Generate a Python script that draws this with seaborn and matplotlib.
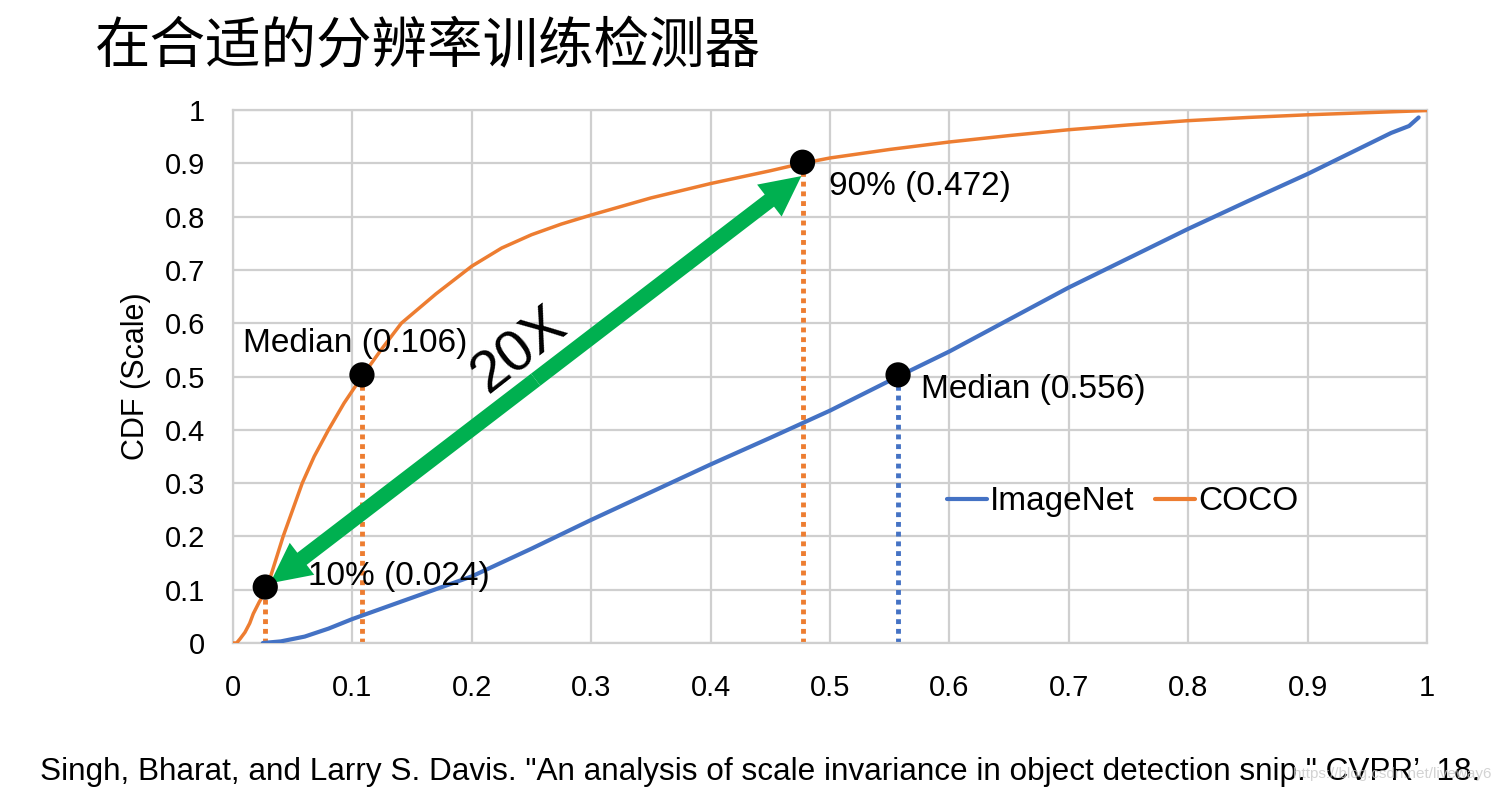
import numpy as np
import pandas as pd
import matplotlib
matplotlib.use("Agg")
import matplotlib.pyplot as plt
import seaborn as sns
from matplotlib.patches import FancyArrowPatch
from matplotlib.lines import Line2D

# ---------------- data ----------------
coco_x = [0.0, 0.003, 0.006, 0.010, 0.014, 0.017, 0.022, 0.028, 0.035, 0.042, 0.050,
          0.058, 0.068, 0.080, 0.093, 0.108, 0.124, 0.141, 0.17, 0.20, 0.225, 0.25,
          0.275, 0.30, 0.35, 0.40, 0.45, 0.477, 0.50, 0.55, 0.60, 0.65, 0.70, 0.75,
          0.80, 0.85, 0.90, 0.95, 1.0]
coco_y = [0.0, 0.0, 0.008, 0.02, 0.037, 0.055, 0.077, 0.10, 0.15, 0.20, 0.25,
          0.30, 0.35, 0.40, 0.45, 0.50, 0.55, 0.60, 0.655, 0.707, 0.741, 0.766,
          0.786, 0.803, 0.835, 0.862, 0.886, 0.90, 0.91, 0.926, 0.94, 0.952, 0.963, 0.972,
          0.98, 0.986, 0.991, 0.995, 0.999]

imagenet_x = [0.025, 0.04, 0.06, 0.08, 0.10, 0.15, 0.20, 0.25, 0.30, 0.35, 0.40,
              0.45, 0.50, 0.557, 0.60, 0.65, 0.70, 0.75, 0.80, 0.85, 0.90, 0.95,
              0.97, 0.985, 0.993]
imagenet_y = [0.0, 0.003, 0.012, 0.027, 0.045, 0.085, 0.125, 0.177, 0.231, 0.283, 0.335,
              0.385, 0.436, 0.50, 0.547, 0.607, 0.667, 0.722, 0.777, 0.829, 0.88, 0.935,
              0.957, 0.970, 0.986]

marker_x = [0.027, 0.108, 0.477, 0.557]
marker_y = [0.105, 0.503, 0.902, 0.503]
marker_series = ["COCO", "COCO", "COCO", "ImageNet"]
marker_labels = ["10% (0.024)", "Median (0.106)", "90% (0.472)", "Median (0.556)"]

ticks = [0, 0.1, 0.2, 0.3, 0.4, 0.5, 0.6, 0.7, 0.8, 0.9, 1]
tick_labels = ["0", "0.1", "0.2", "0.3", "0.4", "0.5", "0.6", "0.7", "0.8", "0.9", "1"]

title = "在合适的分辨率训练检测器"
ylabel = "CDF (Scale)"
citation = 'Singh, Bharat, and Larry S. Davis. "An analysis of scale invariance in object detection snip." CVPR\u2019  18.'
watermark = "https://blog.csdn.net/liveway6"

# ---------------- style ----------------
sns.set_theme(style="whitegrid")
plt.rcParams["font.family"] = ["Liberation Sans", "DejaVu Sans"]
for k in ["text.color", "axes.labelcolor", "xtick.color", "ytick.color"]:
    plt.rcParams[k] = "black"

BLUE = "#4472C4"
ORANGE = "#ED7D31"
GREEN = "#00B050"
GRID = "#CFCFCF"

fig = plt.figure(figsize=(14.99, 7.99), dpi=100)
ax = fig.add_axes([233 / 1499, 1 - 643 / 799, (1427 - 233) / 1499, (643 - 110) / 799])

df_coco = pd.DataFrame({"x": coco_x, "y": coco_y})
df_in = pd.DataFrame({"x": imagenet_x, "y": imagenet_y})
sns.lineplot(data=df_in, x="x", y="y", ax=ax, color=BLUE, lw=3.0, zorder=3)
sns.lineplot(data=df_coco, x="x", y="y", ax=ax, color=ORANGE, lw=2.5, zorder=3)

# dotted drop lines
for mx, my, s in zip(marker_x, marker_y, marker_series):
    c = ORANGE if s == "COCO" else BLUE
    ax.plot([mx, mx], [0, my], color=c, lw=3.5, ls=(0, (1, 1)),
            solid_capstyle="butt", dash_capstyle="butt", zorder=2)

# markers
sns.scatterplot(x=marker_x, y=marker_y, ax=ax, color="black", s=330,
                edgecolor="none", zorder=6)

# annotations
ann_pos = [(0.063, 0.124, "left"), (0.008, 0.562, "left"),
           (0.499, 0.857, "left"), (0.576, 0.475, "left")]
for (tx, ty, ha), lab in zip(ann_pos, marker_labels):
    ax.text(tx, ty, lab, fontsize=24, ha=ha, va="center", color="black", zorder=7)

# green double arrow
p_low = (0.031, 0.112)
p_high = (0.476, 0.876)
mid = ((p_low[0] + p_high[0]) / 2, (p_low[1] + p_high[1]) / 2)
style = "Simple,head_length=0.58,head_width=0.58,tail_width=0.22"
for tip in (p_low, p_high):
    arr = FancyArrowPatch(mid, tip, arrowstyle=style, mutation_scale=50,
                          color=GREEN, lw=0, shrinkA=0, shrinkB=0, zorder=5)
    ax.add_patch(arr)

ax.text(0.2395, 0.548, "20X", fontsize=42, rotation=38, ha="center", va="center",
        rotation_mode="anchor", color="black", zorder=7)

# axes styling
ax.set_xlim(0, 1)
ax.set_ylim(0, 1)
ax.set_xticks(ticks)
ax.set_yticks(ticks)
ax.set_xticklabels(tick_labels)
ax.set_yticklabels(tick_labels)
ax.tick_params(axis="both", length=0, labelsize=21, colors="black")
ax.tick_params(axis="x", pad=22)
ax.tick_params(axis="y", pad=20)
ax.grid(True, color=GRID, lw=1.6)
for sp in ax.spines.values():
    sp.set_color(GRID)
    sp.set_linewidth(1.6)
ax.set_facecolor("white")
ax.set_xlabel("")
ax.set_ylabel(ylabel, fontsize=22, color="black", labelpad=10)

# legend
handles = [Line2D([], [], color=BLUE, lw=3), Line2D([], [], color=ORANGE, lw=3)]
ax.legend(handles, ["ImageNet", "COCO"], loc="center", bbox_to_anchor=(0.745, 0.265),
          ncol=2, frameon=False, fontsize=24, handlelength=1.2, handletextpad=0.1,
          columnspacing=0.6)

# title and citation
fig.text(95 / 1499, 1 - 48 / 799, title, fontsize=40,
         family=["Noto Sans CJK SC", "DejaVu Sans"], ha="left", va="center", color="black")
fig.text(40 / 1499, 1 - 772 / 799, citation, fontsize=22.7, ha="left", va="center",
         color="black")
fig.text(1492 / 1499, 1 - 774 / 799, watermark, fontsize=11, ha="right", va="center",
         color="#C8C8C8", alpha=0.8)

fig.savefig("out.png", dpi=100, facecolor="white")
